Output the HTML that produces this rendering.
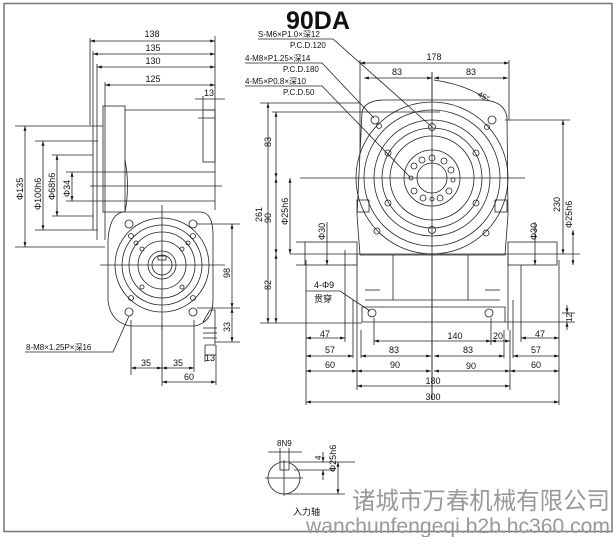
<!DOCTYPE html>
<html><head><meta charset="utf-8"><style>
html,body{margin:0;padding:0;background:#fff}
svg{display:block}
text{font-family:"Liberation Sans","Noto Sans CJK SC",sans-serif;fill:#111}
.t{font-size:9px}
.s{font-size:8px}
</style></head><body>
<svg width="616" height="537" viewBox="0 0 616 537" xmlns="http://www.w3.org/2000/svg">
<defs>
<marker id="a" viewBox="0 0 10 10" refX="10" refY="5" markerWidth="6" markerHeight="6" orient="auto-start-reverse"><path d="M0,2 L10,5 L0,8 z" fill="#111"/></marker>
</defs>
<rect x="4" y="3.5" width="608" height="528" fill="none" stroke="#777" stroke-width="1.5"/>
<text x="286" y="29" style="font-size:25px;font-weight:bold">90DA</text>

<g stroke="#222" stroke-width="0.8" fill="none">
<!-- LEFT SIDE VIEW -->
<line x1="90" y1="38" x2="90" y2="125"/><line x1="93" y1="51" x2="93" y2="230"/><line x1="97" y1="64" x2="97" y2="240"/><line x1="105" y1="82" x2="105" y2="240"/>
<line x1="215" y1="36" x2="215" y2="210"/>
<line x1="90" y1="41" x2="215" y2="41" marker-start="url(#a)" marker-end="url(#a)"/>
<line x1="93" y1="54" x2="215" y2="54" marker-start="url(#a)" marker-end="url(#a)"/>
<line x1="97" y1="67" x2="215" y2="67" marker-start="url(#a)" marker-end="url(#a)"/>
<line x1="105" y1="85" x2="215" y2="85" marker-start="url(#a)" marker-end="url(#a)"/>
<line x1="195" y1="99" x2="225" y2="99"/><line x1="203" y1="96" x2="203" y2="110"/>
<rect x="103" y="106" width="22" height="106"/>
<line x1="125" y1="110" x2="215" y2="110"/>
<rect x="203" y="110" width="12" height="52"/>
<line x1="198" y1="118" x2="215" y2="118"/>
<line x1="125" y1="172" x2="215" y2="172"/><line x1="90" y1="186" x2="222" y2="186"/><line x1="110" y1="201" x2="215" y2="201"/>
<path d="M125,160 Q130,186 125,212"/>
<line x1="15" y1="126" x2="103" y2="126"/><line x1="15" y1="247" x2="105" y2="247"/>
<line x1="25" y1="126" x2="25" y2="247" marker-start="url(#a)" marker-end="url(#a)"/>
<line x1="35" y1="141" x2="98" y2="141"/><line x1="35" y1="230" x2="98" y2="230"/>
<line x1="43" y1="141" x2="43" y2="230" marker-start="url(#a)" marker-end="url(#a)"/>
<line x1="52" y1="155" x2="93" y2="155"/><line x1="52" y1="216" x2="93" y2="216"/>
<line x1="57" y1="155" x2="57" y2="216" marker-start="url(#a)" marker-end="url(#a)"/>
<line x1="66" y1="172" x2="125" y2="172"/><line x1="66" y1="201" x2="110" y2="201"/>
<line x1="72" y1="172" x2="72" y2="201" marker-start="url(#a)" marker-end="url(#a)"/>

<!-- LEFT FRONT HOUSING -->
<path d="M125,212 L200,212 Q213,212 213,235 L213,300 Q213,322 195,326 L130,326 Q110,322 108,300 L108,240 Q110,212 125,212 z" fill="#fff"/>
<circle cx="162" cy="265" r="47"/><circle cx="162" cy="265" r="40"/><circle cx="162" cy="265" r="33"/><circle cx="162" cy="265" r="24"/><circle cx="162" cy="265" r="14"/><circle cx="162" cy="265" r="10"/>
<rect x="158" y="256" width="8" height="4"/>
<line x1="162" y1="205" x2="162" y2="330"/><line x1="100" y1="265" x2="225" y2="265"/>
<circle cx="129" cy="224" r="4"/><circle cx="193" cy="224" r="4"/><circle cx="129" cy="312" r="4"/><circle cx="193" cy="312" r="4"/>
<circle cx="131" cy="236" r="2.5"/><circle cx="193" cy="236" r="2.5"/><circle cx="136" cy="243" r="2"/><circle cx="188" cy="243" r="2"/><circle cx="142" cy="249" r="2"/><circle cx="182" cy="249" r="2"/>
<circle cx="142" cy="287" r="2"/><circle cx="182" cy="287" r="2"/><circle cx="131" cy="298" r="2.5"/><circle cx="193" cy="298" r="2.5"/>
<line x1="197" y1="224" x2="240" y2="224"/><line x1="197" y1="308" x2="240" y2="308"/>
<line x1="232" y1="224" x2="232" y2="308" marker-start="url(#a)" marker-end="url(#a)"/>
<line x1="232" y1="308" x2="232" y2="342" marker-start="url(#a)" marker-end="url(#a)"/>
<line x1="215" y1="342" x2="240" y2="342"/>
<path d="M203,322 L210,310 L215,310 L215,345 L205,345"/>
<line x1="203" y1="328" x2="217" y2="328"/><line x1="203" y1="333" x2="217" y2="333"/><line x1="203" y1="338" x2="217" y2="338"/>
<line x1="205" y1="345" x2="205" y2="362"/><line x1="216" y1="345" x2="216" y2="385"/>
<line x1="205" y1="355" x2="216" y2="355"/>
<line x1="131" y1="320" x2="131" y2="375"/><line x1="162" y1="326" x2="162" y2="386"/><line x1="194" y1="320" x2="194" y2="372"/>
<line x1="131" y1="368" x2="162" y2="368" marker-start="url(#a)" marker-end="url(#a)"/>
<line x1="162" y1="368" x2="194" y2="368" marker-start="url(#a)" marker-end="url(#a)"/>
<line x1="162" y1="382" x2="216" y2="382" marker-start="url(#a)" marker-end="url(#a)"/>
<polyline points="25,352 113,352 129,316"/>

<!-- RIGHT VIEW -->
<line x1="360" y1="60" x2="360" y2="180"/><line x1="509" y1="60" x2="509" y2="120"/>
<line x1="360" y1="63" x2="509" y2="63" marker-start="url(#a)" marker-end="url(#a)"/>
<line x1="364" y1="78" x2="432" y2="78" marker-start="url(#a)" marker-end="url(#a)"/>
<line x1="434" y1="78" x2="508" y2="78" marker-start="url(#a)" marker-end="url(#a)"/>
<path d="M434,80 Q475,86 498,108" marker-end="url(#a)"/>
<line x1="432" y1="72" x2="432" y2="400"/>
<path d="M362,112 Q365,100 385,100 L480,100 Q505,100 507,118 L508,215 L505,255 L360,255 L357,215 z" fill="#fff"/>
<circle cx="432" cy="178" r="76"/><circle cx="432" cy="178" r="68"/><circle cx="432" cy="178" r="58"/><circle cx="432" cy="178" r="50"/><circle cx="432" cy="178" r="42"/><circle cx="432" cy="178" r="28"/><circle cx="432" cy="178" r="15"/>
<line x1="300" y1="178" x2="525" y2="178"/>
<line x1="432" y1="72" x2="432" y2="400"/>
<circle cx="432" cy="127" r="3.5"/><circle cx="432" cy="230" r="3.5"/>
<circle cx="388" cy="153" r="3"/><circle cx="476" cy="153" r="3"/><circle cx="388" cy="203" r="3"/><circle cx="476" cy="203" r="3"/>
<circle cx="375" cy="120" r="4"/><circle cx="492" cy="120" r="4"/><circle cx="379" cy="126" r="2.5"/><circle cx="487" cy="127" r="2.5"/>
<circle cx="377" cy="231" r="3"/><circle cx="486" cy="233" r="3"/>
<g>
<circle cx="432" cy="158" r="3"/><circle cx="444" cy="161" r="3"/><circle cx="451" cy="170" r="3"/><circle cx="453" cy="180" r="2"/><circle cx="449" cy="191" r="3"/><circle cx="440" cy="198" r="3"/><circle cx="432" cy="199" r="2"/><circle cx="423" cy="198" r="3"/><circle cx="414" cy="191" r="3"/><circle cx="411" cy="178" r="2"/><circle cx="414" cy="166" r="3"/><circle cx="422" cy="160" r="3"/>
</g>
<line x1="362" y1="112" x2="440" y2="112"/>
<rect x="357" y="200" width="12" height="12"/><rect x="495" y="200" width="12" height="12"/>
<!-- shafts -->
<rect x="305" y="242" width="52" height="23"/><rect x="508" y="242" width="49" height="23"/>
<line x1="290" y1="254" x2="580" y2="254"/>
<line x1="357" y1="255" x2="357" y2="330"/><line x1="508" y1="255" x2="508" y2="330"/>
<line x1="393" y1="255" x2="393" y2="300"/><line x1="468" y1="255" x2="468" y2="300"/>
<line x1="365" y1="300" x2="500" y2="300"/>
<path d="M362,307 L505,307 L505,322 L362,322 z"/>
<circle cx="372" cy="313" r="4"/><circle cx="489" cy="313" r="4"/>
<line x1="365" y1="290" x2="380" y2="290"/><line x1="485" y1="290" x2="500" y2="290"/>
<line x1="296" y1="242" x2="305" y2="242"/><line x1="296" y1="265" x2="305" y2="265"/>
<line x1="562" y1="313" x2="575" y2="313"/><line x1="505" y1="322" x2="575" y2="322"/>
<line x1="567" y1="305" x2="567" y2="313" marker-end="url(#a)"/><line x1="567" y1="330" x2="567" y2="322" marker-end="url(#a)"/>
<!-- vertical dims right view -->
<line x1="260" y1="103" x2="360" y2="103"/>
<line x1="268" y1="103" x2="268" y2="323" marker-start="url(#a)" marker-end="url(#a)"/>
<line x1="272" y1="112" x2="362" y2="112"/>
<line x1="276" y1="112" x2="276" y2="178" marker-start="url(#a)" marker-end="url(#a)"/>
<line x1="276" y1="178" x2="276" y2="254" marker-start="url(#a)" marker-end="url(#a)"/>
<line x1="276" y1="254" x2="276" y2="323" marker-start="url(#a)" marker-end="url(#a)"/>
<line x1="260" y1="323" x2="362" y2="323"/>
<line x1="290" y1="178" x2="290" y2="254" marker-start="url(#a)" marker-end="url(#a)"/>
<line x1="327" y1="222" x2="327" y2="265" marker-end="url(#a)"/>
<line x1="535" y1="222" x2="535" y2="265" marker-end="url(#a)"/>
<line x1="505" y1="120" x2="570" y2="120"/>
<line x1="563" y1="120" x2="563" y2="254" marker-start="url(#a)" marker-end="url(#a)"/>
<line x1="573" y1="230" x2="573" y2="265" marker-start="url(#a)" marker-end="url(#a)"/>
<!-- bottom horizontal dims -->
<line x1="306" y1="260" x2="306" y2="405"/><line x1="559" y1="260" x2="559" y2="405"/>
<line x1="357" y1="330" x2="357" y2="390"/><line x1="510" y1="330" x2="510" y2="390"/>
<line x1="345" y1="250" x2="345" y2="342"/><line x1="353" y1="300" x2="353" y2="358"/>
<line x1="361" y1="330" x2="361" y2="358"/><line x1="504" y1="330" x2="504" y2="358"/>
<line x1="521" y1="265" x2="521" y2="342"/><line x1="513" y1="300" x2="513" y2="358"/>
<line x1="374" y1="318" x2="374" y2="345"/><line x1="491" y1="318" x2="491" y2="345"/>
<line x1="306" y1="338" x2="345" y2="338" marker-start="url(#a)" marker-end="url(#a)"/>
<line x1="521" y1="338" x2="559" y2="338" marker-start="url(#a)" marker-end="url(#a)"/>
<line x1="374" y1="341" x2="491" y2="341" marker-start="url(#a)" marker-end="url(#a)"/>
<line x1="491" y1="341" x2="510" y2="341" marker-start="url(#a)" marker-end="url(#a)"/>
<line x1="306" y1="356" x2="353" y2="356" marker-start="url(#a)" marker-end="url(#a)"/>
<line x1="361" y1="356" x2="431" y2="356" marker-start="url(#a)" marker-end="url(#a)"/>
<line x1="434" y1="356" x2="504" y2="356" marker-start="url(#a)" marker-end="url(#a)"/>
<line x1="513" y1="356" x2="559" y2="356" marker-start="url(#a)" marker-end="url(#a)"/>
<line x1="306" y1="371" x2="357" y2="371" marker-start="url(#a)" marker-end="url(#a)"/>
<line x1="357" y1="371" x2="431" y2="371" marker-start="url(#a)" marker-end="url(#a)"/>
<line x1="434" y1="371" x2="510" y2="371" marker-start="url(#a)" marker-end="url(#a)"/>
<line x1="510" y1="371" x2="559" y2="371" marker-start="url(#a)" marker-end="url(#a)"/>
<line x1="357" y1="386" x2="510" y2="386" marker-start="url(#a)" marker-end="url(#a)"/>
<line x1="306" y1="402" x2="559" y2="402" marker-start="url(#a)" marker-end="url(#a)"/>
<!-- leaders -->
<polyline points="258,39 333,39 432,127"/>
<polyline points="245,63 322,63 374,118"/>
<polyline points="245,86 322,86 410,177"/>
<polyline points="306,291 340,291 370,311"/>
<!-- KEY DETAIL -->
<circle cx="284" cy="478" r="16"/>
<rect x="280" y="462" width="9" height="8" fill="#fff"/>
<line x1="265" y1="478" x2="303" y2="478"/><line x1="284" y1="460" x2="284" y2="496"/>
<line x1="280" y1="448" x2="280" y2="462"/><line x1="289" y1="448" x2="289" y2="462"/>
<line x1="268" y1="452" x2="302" y2="452"/>
<line x1="289" y1="462" x2="355" y2="462"/><line x1="294" y1="470" x2="335" y2="470"/>
<line x1="323" y1="452" x2="323" y2="462" marker-end="url(#a)"/><line x1="323" y1="480" x2="323" y2="470" marker-end="url(#a)"/>
<line x1="284" y1="494" x2="345" y2="494"/>
<line x1="338" y1="462" x2="338" y2="494" marker-start="url(#a)" marker-end="url(#a)"/>
</g>

<g class="t" text-anchor="middle">
<text x="152" y="37">138</text><text x="153" y="51">135</text><text x="153" y="64">130</text><text x="153" y="82">125</text><text x="209" y="96">13</text>
<text x="434" y="60">178</text><text x="397" y="75">83</text><text x="471" y="75">83</text>
<text x="325" y="337">47</text><text x="540" y="337">47</text><text x="455" y="339">140</text><text x="498" y="339">20</text>
<text x="330" y="353">57</text><text x="394" y="353">83</text><text x="468" y="353">83</text><text x="536" y="353">57</text>
<text x="330" y="368">60</text><text x="395" y="368">90</text><text x="471" y="369">90</text><text x="536" y="368">60</text>
<text x="433" y="384">180</text><text x="433" y="400">300</text>
<text x="146" y="366">35</text><text x="178" y="366">35</text><text x="189" y="380">60</text><text x="210" y="361">13</text>
</g>
<g class="t">
<text transform="translate(23,200) rotate(-90)">Φ135</text>
<text transform="translate(41,210) rotate(-90)">Φ100h6</text>
<text transform="translate(55,200) rotate(-90)">Φ68h6</text>
<text transform="translate(70,197) rotate(-90)">Φ34</text>
<text transform="translate(262,222) rotate(-90)">261</text>
<text transform="translate(271,147) rotate(-90)">83</text>
<text transform="translate(271,223) rotate(-90)">90</text>
<text transform="translate(271,290) rotate(-90)">82</text>
<text transform="translate(288,225) rotate(-90)">Φ25h6</text>
<text transform="translate(325,240) rotate(-90)">Φ30</text>
<text transform="translate(537,240) rotate(-90)">Φ30</text>
<text transform="translate(560,212) rotate(-90)">230</text>
<text transform="translate(572,228) rotate(-90)">Φ25h6</text>
<text transform="translate(572,322) rotate(-90)" class="s">12</text>
<text transform="translate(230,278) rotate(-90)">98</text>
<text transform="translate(230,332) rotate(-90)">33</text>
<text transform="translate(336,472) rotate(-90)">Φ25h6</text>
<text transform="translate(321,460) rotate(-90)" class="s">4</text>
<text transform="translate(477,96) rotate(28)" class="s">45°</text>
</g>
<g class="s">
<text x="258" y="37">S-M6×P1.0×深12</text><text x="290" y="48">P.C.D.120</text>
<text x="245" y="61">4-M8×P1.25×深14</text><text x="283" y="72">P.C.D.180</text>
<text x="245" y="84">4-M5×P0.8×深10</text><text x="283" y="95">P.C.D.50</text>
<text x="26" y="350">8-M8×1.25P×深16</text>
<text x="277" y="446">8N9</text>
</g>
<text x="314" y="288" class="t">4-Φ9</text>
<text x="314" y="302" class="t">贯穿</text>
<text x="293" y="515" class="t">入力轴</text>
<text x="352" y="509" textLength="258" lengthAdjust="spacingAndGlyphs" style="font-size:24px;fill:#999">诸城市万春机械有限公司</text>
<text x="306" y="533" textLength="304" lengthAdjust="spacingAndGlyphs" style="font-size:21px;fill:#999">wanchunfengeqi.b2b.hc360.com</text>
</svg>
</body></html>
